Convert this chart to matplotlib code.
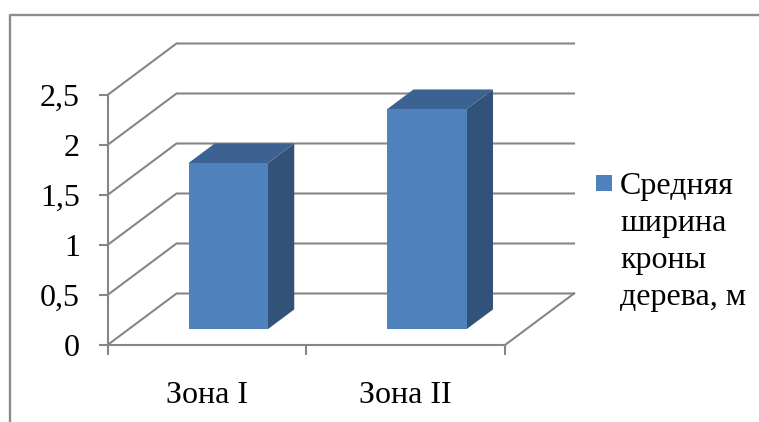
import matplotlib
matplotlib.use("Agg")
import matplotlib.pyplot as plt
from matplotlib.lines import Line2D
from matplotlib.patches import Rectangle

categories = ["Зона I", "Зона II"]
crown_width = [1.66, 2.2]
y_ticks = [0, 0.5, 1, 1.5, 2, 2.5]
y_labels = ["0", "0,5", "1", "1,5", "2", "2,5"]
legend_label = "Средняя\nширина\nкроны\nдерева, м"

W, H = 759, 422
plt.rcParams['font.family'] = ['Liberation Serif', 'DejaVu Serif']

GRID = '#868686'
FRONT = '#4f81bd'
TOP = '#3c6291'
SIDE = '#325279'

# oblique depth of the chart box, in data units
DX = 69 / 198.75
DY = 0.515
BAR_W = 0.4
BAR_NEAR = 0.31
BAR_FAR = 0.69

fig = plt.figure(figsize=(W / 100, H / 100), dpi=100)
fig.patch.set_facecolor('white')
ax = fig.add_axes([107.5 / W, 1 - 345 / H, 397.5 / W, 250 / H])
ax.set_xlim(0, 2)
ax.set_ylim(0, 2.5)
ax.patch.set_visible(False)
for name in ['top', 'right']:
    ax.spines[name].set_visible(False)
for name in ['left', 'bottom']:
    ax.spines[name].set_color(GRID)
    ax.spines[name].set_linewidth(1.5)


def depth(x, y, d):
    return x + d * DX, y + d * DY


# walls: each gridline runs back along the side and then across the rear
for v in y_ticks:
    x0, y0 = depth(0, v, 1)
    x1, y1 = depth(2, v, 1)
    ax.plot([0, x0, x1], [v, y0, y1], color=GRID, lw=1.5, clip_on=False, zorder=1,
            solid_joinstyle='miter')
ax.plot([2, 2 + DX], [0, DY], color=GRID, lw=1.5, clip_on=False, zorder=1)

for i, val in enumerate(crown_width):
    left = i + 0.5 - BAR_W / 2
    right = left + BAR_W
    xa, ya = depth(left, 0, BAR_NEAR)
    xb, _ = depth(right, 0, BAR_NEAR)
    xc, yc = depth(right, 0, BAR_FAR)
    xd, _ = depth(left, 0, BAR_FAR)
    ax.fill([xb, xc, xc, xb], [ya, yc, yc + val, ya + val], color=SIDE, lw=0,
            clip_on=False, zorder=3)
    ax.fill([xa, xb, xc, xd], [ya + val, ya + val, yc + val, yc + val], color=TOP, lw=0,
            clip_on=False, zorder=3)
    ax.fill([xa, xb, xb, xa], [ya, ya, ya + val, ya + val], color=FRONT, lw=0,
            clip_on=False, zorder=4)

ax.set_yticks(y_ticks)
ax.set_yticklabels(y_labels)
ax.tick_params(axis='y', length=6.5, width=1.5, color=GRID, labelsize=23, pad=13.5, labelcolor='black')
ax.set_xticks([0, 1, 2])
ax.set_xticklabels([])
ax.tick_params(axis='x', which='major', length=7, width=1.5, color=GRID)
ax.set_xticks([0.5, 1.5], minor=True)
ax.set_xticklabels(categories, minor=True)
ax.tick_params(axis='x', which='minor', length=0, labelsize=23, pad=26, labelcolor='black')

# outer chart frame, only the top and left edges are visible
fig.add_artist(Line2D([10 / W, 10 / W, 1], [0, 1 - 15 / H, 1 - 15 / H],
                      color='#8c8c8c', lw=1.7, transform=fig.transFigure))

# legend swatch sits on the first line of the wrapped label
fig.add_artist(Rectangle((596 / W, 1 - 191 / H), 16 / W, 16 / H, facecolor=FRONT,
                         edgecolor='none', transform=fig.transFigure))
fig.text(620 / W, 1 - 172 / H, legend_label, fontsize=23, va='top', ha='left',
         linespacing=1.37, color='black')

fig.savefig("out.png", dpi=100)
